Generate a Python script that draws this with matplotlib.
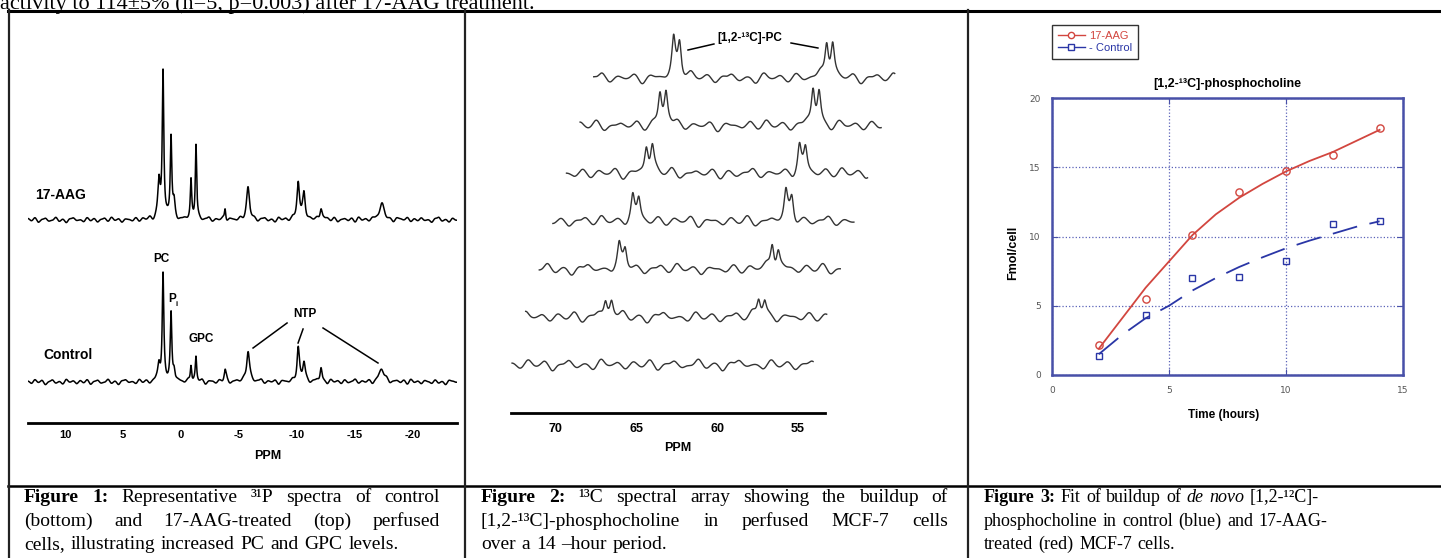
import numpy as np
import matplotlib
matplotlib.use("Agg")
import matplotlib.pyplot as plt
from matplotlib.lines import Line2D

plt.rcParams['axes.unicode_minus'] = False
SANS = 'Liberation Sans'
SERIF = 'Liberation Serif'

# ---- Figure 1: 31P spectra, peaks as (ppm, height, half width)
p31_ticks = [10, 5, 0, -5, -10, -15, -20]
p31_aag_peaks = [(1.9, 37, 0.12), (1.55, 147, 0.08), (0.86, 82, 0.08), (0.6, 14, 0.1),
                 (-0.86, 38, 0.07), (-1.29, 76, 0.07), (-3.8, 12, 0.07), (-5.78, 31, 0.15),
                 (-10.1, 37, 0.13), (-10.6, 25, 0.13), (-12.07, 13, 0.12), (-17.3, 16, 0.25)]
p31_ctl_peaks = [(1.9, 17, 0.12), (1.55, 105, 0.08), (0.86, 67, 0.08), (0.6, 12, 0.1),
                 (-0.86, 17, 0.07), (-1.29, 24, 0.07), (-3.8, 11, 0.1), (-5.78, 32, 0.15),
                 (-10.1, 33, 0.12), (-10.6, 19, 0.13), (-12.07, 15, 0.1), (-17.3, 13, 0.25)]

# ---- Figure 2: 13C array, doublet lines and their heights (bottom trace first)
c13_ticks = [70, 65, 60, 55]
c13_lines_ppm = [67.72, 67.35, 58.27, 57.90]
c13_heights = [[0, 0, 0, 0],
               [17, 16, 17, 15],
               [22, 20, 27, 18],
               [25, 22, 28, 24],
               [27, 26, 27, 25],
               [33, 32, 36, 33],
               [36, 35, 34, 33]]

# baseline noise read by eye (relative units)
ripple = [0.3, -0.5, 0.8, -0.2, 0.6, -0.9, 0.1, 0.7, -0.4, 0.2, -0.7, 0.9, -0.1, 0.4, -0.6, 0.5, -0.3, 0.8, -0.8, 0.2,
          0.6, -0.4, -0.1, 0.9, -0.5, 0.3, -0.9, 0.4, 0.7, -0.2, 0.1, -0.6, 0.8, -0.3, 0.5, -0.7, 0.2, 0.6, -0.5, 0.9,
          -0.2, 0.4, -0.8, 0.3, 0.1, -0.4, 0.7, -0.6, 0.5, -0.1, 0.8, -0.9, 0.3, 0.2, -0.5, 0.6, -0.3, 0.9, -0.7, 0.1,
          0.4, -0.2, 0.7, -0.8, 0.5, -0.4, 0.2, 0.8, -0.6, 0.3, -0.1, 0.6, -0.9, 0.4, 0.1, -0.3, 0.7, -0.5, 0.9, -0.2,
          0.5, -0.7, 0.3, 0.6, -0.4, 0.2, -0.8, 0.8, -0.1, 0.4, -0.6, 0.7, -0.3, 0.1, 0.9, -0.5, 0.3, -0.2, 0.6, -0.9,
          0.2, 0.5, -0.4, 0.8, -0.7, 0.1, 0.4, -0.3, 0.6, -0.8, 0.9, -0.2, 0.3, -0.6, 0.5, 0.1, -0.5, 0.7, -0.4, 0.2,
          -0.9, 0.6, 0.3, -0.1, 0.8, -0.6, 0.4, -0.3, 0.7, -0.2, 0.1, -0.8, 0.5, 0.9, -0.4, 0.2, -0.7, 0.6, -0.1, 0.3]

# ---- Figure 3: buildup data and fits
hours = [2, 4, 6, 8, 10, 12, 14]
aag_fmol = [2.2, 5.5, 10.1, 13.2, 14.7, 15.9, 17.8]
ctl_fmol = [1.4, 4.3, 7.0, 7.1, 8.2, 10.9, 11.1]
fit_hours = [2, 3, 4, 5, 6, 7, 8, 9, 10, 11, 12, 13, 14]
aag_fit = [1.9, 4.1, 6.3, 8.2, 10.1, 11.6, 12.8, 13.8, 14.7, 15.45, 16.1, 16.9, 17.7]
ctl_fit = [1.5, 2.9, 4.1, 5.0, 6.1, 7.0, 7.8, 8.5, 9.15, 9.7, 10.2, 10.7, 11.1]


def spectrum(x, peaks, rip, start, step, sigma, scale):
    y = np.zeros_like(x)
    for c, h, w in peaks:
        y += h * w**2 / ((x - c)**2 + w**2)
    for k, a in enumerate(rip):
        y += scale * a * np.exp(-0.5 * ((x - (start - k * step)) / sigma)**2)
    return y


W, H = 1441, 558
fig = plt.figure(figsize=(W / 100, H / 100), dpi=100)

# background axes in pixel units for the page/table
bg = fig.add_axes([0, 0, 1, 1])
bg.set_xlim(0, W)
bg.set_ylim(H, 0)
bg.axis('off')
bg.plot([8, W], [10.5, 10.5], color='black', lw=2.2)
bg.plot([8, W], [486, 486], color='black', lw=1.8)
for xv in [8.5, 465, 968]:
    bg.plot([xv, xv], [10, H], color='#222222', lw=1.6)

bg.text(0, 8.5, "activity to 114\u00b15% (n=5, p=0.003) after 17-AAG treatment.",
        family=SERIF, fontsize=16, va='baseline', ha='left')

renderer = fig.canvas.get_renderer()


def put_words(words, x0, y, x1=None, size=13):
    arts = []
    for w, st in words:
        t = bg.text(x0, y, w, family=SERIF, fontsize=size, va='baseline', ha='left',
                    fontweight='bold' if st == 'b' else 'normal',
                    fontstyle='italic' if st == 'i' else 'normal')
        arts.append(t)
    widths = [a.get_window_extent(renderer).width for a in arts]
    if x1 is not None:
        gap = (x1 - x0 - sum(widths)) / (len(arts) - 1)
    else:
        gap = 0.3 * size * 100 / 72
    xx = x0
    for a, wd in zip(arts, widths):
        a.set_x(xx)
        xx += wd + gap


def words(s, first_bold=0):
    parts = s.split(' ')
    return [(p, 'b' if i < first_bold else 'n') for i, p in enumerate(parts)]


cap_y = [502, 525.5, 549]
put_words(words("Figure 1: Representative \u00b3\u00b9P spectra of control", 2), 24, cap_y[0], 440, size=14)
put_words(words("(bottom) and 17-AAG-treated (top) perfused"), 24, cap_y[1], 440, size=14)
put_words(words("cells, illustrating increased PC and GPC levels."), 24, cap_y[2], size=14)

put_words(words("Figure 2: \u00b9\u00b3C spectral array showing the buildup of", 2), 481, cap_y[0], 948, size=14)
put_words(words("[1,2-\u00b9\u00b3C]-phosphocholine in perfused MCF-7 cells"), 481, cap_y[1], 948, size=14)
put_words(words("over a 14 \u2013hour period."), 481, cap_y[2], size=14)

line3 = words("Figure 3: Fit of buildup of", 2) + [("de", 'i'), ("novo", 'i'), ("[1,2-\u00b9\u00b2C]-", 'n')]
put_words(line3, 984, cap_y[0])
put_words(words("phosphocholine in control (blue) and 17-AAG-"), 984, cap_y[1])
put_words(words("treated (red) MCF-7 cells."), 984, cap_y[2])

# ---- panel 1
ax1 = fig.add_axes([28 / W, 1 - 470 / H, 429 / W, 410 / H])
ax1.patch.set_alpha(0)
ax1.set_xlim(13.19, -23.79)
ax1.set_ylim(0, 410)
x1 = np.linspace(13.19, -23.79, 6000)
ctl = 88 + spectrum(x1, p31_ctl_peaks, ripple[0:124], 13.19, 0.3, 0.12, 3.0)
aag = 250 + spectrum(x1, p31_aag_peaks, ripple[15:139], 13.19, 0.3, 0.12, 3.0)
ax1.plot(x1, ctl, color='black', lw=1.1)
ax1.plot(x1, aag, color='black', lw=1.1)
for s in ['top', 'left', 'right']:
    ax1.spines[s].set_visible(False)
ax1.spines['bottom'].set_position(('data', 47))
ax1.spines['bottom'].set_linewidth(2)
ax1.set_yticks([])
ax1.set_xticks(p31_ticks)
ax1.set_xticklabels([str(t) for t in p31_ticks], fontweight='bold', fontsize=8, family=SANS)
ax1.tick_params(axis='x', length=0, pad=5)
ax1.set_xlabel('PPM', fontweight='bold', fontsize=9, family=SANS)
ax1.xaxis.set_label_coords(0.559, 0.049)
lab = dict(fontweight='bold', family=SANS)
ax1.text(12.59, 275, '17-AAG', fontsize=10, va='center', ha='left', **lab)
ax1.text(11.9, 115, 'Control', fontsize=10, va='center', ha='left', **lab)
ax1.text(1.72, 211, 'PC', fontsize=8.5, va='center', ha='center', **lab)
ax1.text(1.12, 171, 'P', fontsize=8.5, va='center', ha='left', **lab)
ax1.text(0.45, 166, 'i', fontsize=5.5, va='center', ha='left', **lab)
ax1.text(-1.72, 131, 'GPC', fontsize=8.5, va='center', ha='center', **lab)
ax1.text(-10.69, 156, 'NTP', fontsize=8.5, va='center', ha='center', **lab)
ax1.plot([-9.14, -6.21], [147, 122], color='black', lw=1.1)
ax1.plot([-10.52, -10.09], [141, 127], color='black', lw=1.1)
ax1.plot([-12.24, -16.98], [142, 107], color='black', lw=1.1)

# ---- panel 2
ax2 = fig.add_axes([470 / W, 1 - 470 / H, 490 / W, 450 / H])
ax2.patch.set_alpha(0)
ax2.set_xlim(75.247, 45.0)
ax2.set_ylim(0, 450)
xs = np.linspace(72.65, 54.07, 3000)
for i, hts in enumerate(c13_heights):
    pk = [(c, h, 0.13) for c, h in zip(c13_lines_ppm, hts)]
    yv = spectrum(xs, pk, ripple[i * 11:i * 11 + 38], 72.65, 0.5, 0.17, 6.5)
    ax2.plot(xs - i * 0.84, 105 + i * 47.8 + yv, color='#333333', lw=1.0)
for s in ['top', 'left', 'right']:
    ax2.spines[s].set_visible(False)
ax2.spines['bottom'].set_position(('data', 57))
ax2.spines['bottom'].set_bounds(72.72, 53.33)
ax2.spines['bottom'].set_linewidth(2)
ax2.set_yticks([])
ax2.set_xticks(c13_ticks)
ax2.set_xticklabels([str(t) for t in c13_ticks], fontweight='bold', fontsize=9, family=SANS)
ax2.tick_params(axis='x', length=0, pad=7)
ax2.set_xlabel('PPM', fontweight='bold', fontsize=9, family=SANS)
ax2.xaxis.set_label_coords(0.4245, 0.062)
ax2.text(57.96, 432, '[1,2-\u00b9\u00b3C]-PC', fontsize=8.5, va='center', ha='center', **lab)
ax2.plot([61.79, 60.19], [420, 426], color='black', lw=1.1)
ax2.plot([55.43, 53.77], [427, 422], color='black', lw=1.1)

# ---- panel 3
red = '#d2463f'
blue = '#2a36a6'
frame = '#4850a8'
ax3 = fig.add_axes([1052 / W, 1 - 375 / H, 351 / W, 277 / H])
ax3.set_xlim(0, 15)
ax3.set_ylim(0, 20)
ax3.plot(fit_hours, aag_fit, color=red, lw=1.3)
ax3.plot(fit_hours, ctl_fit, color=blue, lw=1.3, dashes=(14, 7))
ax3.plot(hours, aag_fmol, 'o', mfc='none', mec=red, ms=5.2, mew=1)
ax3.plot(hours, ctl_fmol, 's', mfc='none', mec=blue, ms=5, mew=1)
ax3.set_xticks([0, 5, 10, 15])
ax3.set_yticks([0, 5, 10, 15, 20])
ax3.tick_params(direction='in', length=4, color=frame, top=True, right=True,
                labelsize=6.5, labelcolor='#555555', pad=8)
for s in ax3.spines.values():
    s.set_color(frame)
    s.set_linewidth(1.8)
ax3.grid(True, ls=':', color='#5a62b8', lw=0.9)
ax3.set_title('[1,2-\u00b9\u00b3C]-phosphocholine', fontsize=9, fontweight='bold', family=SANS, pad=8)
ax3.set_xlabel('Time (hours)', fontsize=8.5, fontweight='bold', family=SANS)
ax3.xaxis.set_label_coords(0.49, -0.123)
ax3.set_ylabel('Fmol/cell', fontsize=9, fontweight='bold', family=SANS)
ax3.yaxis.set_label_coords(-0.095, 0.44)
handles = [Line2D([], [], color=red, lw=1, marker='o', mfc='white', mec=red, ms=4.5),
           Line2D([], [], color=blue, lw=1, marker='s', mfc='white', mec=blue, ms=4.5)]
leg = ax3.legend(handles, ['17-AAG', '- Control'], loc='upper left', bbox_to_anchor=(0, 1.2635),
                 borderaxespad=0, fancybox=False, edgecolor='#333333', framealpha=1,
                 prop={'family': SANS, 'size': 8}, handlelength=2.4, labelspacing=0.2,
                 borderpad=0.55, handletextpad=0.4, numpoints=1)
for t, c in zip(leg.get_texts(), [red, blue]):
    t.set_color(c)

fig.savefig('out.png', dpi=100)
